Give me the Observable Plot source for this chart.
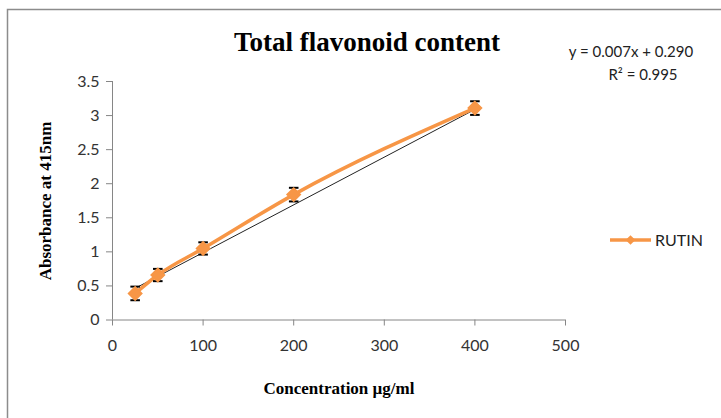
<!DOCTYPE html>
<html>
<head>
<meta charset="utf-8">
<script src="https://cdn.jsdelivr.net/npm/d3@7"></script>
<script src="https://cdn.jsdelivr.net/npm/@observablehq/plot@0.6"></script>
<style>
  html, body { margin: 0; padding: 0; background: #fff; }
  #chart { width: 721px; height: 418px; overflow: hidden; }
</style>
</head>
<body>
<div id="chart"></div>
<script>
// Data
const concentration = [25, 50, 100, 200, 400];
const absorbance = [0.39, 0.66, 1.05, 1.84, 3.11];
const errorBar = [0.10, 0.09, 0.09, 0.10, 0.10];
const seriesName = "RUTIN";
const trendSlope = 0.007;
const trendIntercept = 0.290;
const trendRange = [25, 400];
const xTicks = [0, 100, 200, 300, 400, 500];
const yTicks = [0, 0.5, 1, 1.5, 2, 2.5, 3, 3.5];
const titleText = "Total flavonoid content";
const xLabel = "Concentration \u00b5g/ml";
const yLabel = "Absorbance at 415nm";
const equationText = "y = 0.007x + 0.290";
const r2Text = "R\u00b2 = 0.995";

const orange = "#f79646";
const axisGray = "#868686";

const points = concentration.map((c, i) => ({
  x: c, y: absorbance[i], lo: absorbance[i] - errorBar[i], hi: absorbance[i] + errorBar[i]
}));
const trend = trendRange.map(x => ({ x, y: trendSlope * x + trendIntercept }));

const capSymbol = {
  draw(ctx, size) {
    const w = Math.sqrt(size) * 0.9;
    ctx.moveTo(-w, 0);
    ctx.lineTo(w, 0);
  }
};

const W = 721, H = 418;
const sans = "Lato, 'Open Sans', sans-serif";
const serif = "'Liberation Serif', 'Times New Roman', serif";
const chart = Plot.plot({
  width: W,
  height: H,
  marginLeft: 112,
  marginRight: 156,
  marginTop: 81,
  marginBottom: 98.5,
  style: { fontFamily: sans, fontSize: "16px", color: "#333", background: "#fff" },
  x: { domain: [0, 500] },
  y: { domain: [0, 3.5] },
  marks: [
    Plot.ruleX([0], { y1: 0, y2: 3.5, stroke: axisGray }),
    Plot.ruleY([0], { x1: 0, x2: 500, stroke: axisGray }),
    Plot.axisX({ ticks: xTicks, tickSize: 6, tickPadding: 14, stroke: axisGray, fill: "#333", label: null, fontSize: 16, tickFormat: d => String(d) }),
    Plot.axisY({ ticks: yTicks, tickSize: 6, tickPadding: 7, stroke: axisGray, fill: "#333", label: null, fontSize: 16, tickFormat: d => String(d) }),
    Plot.line(trend, { x: "x", y: "y", stroke: "#222", strokeWidth: 1 }),
    Plot.line(points, { x: "x", y: "y", stroke: orange, strokeWidth: 3.5, curve: "monotone-x" }),
    Plot.ruleX(points, { x: "x", y1: "lo", y2: "hi", stroke: "#000", strokeWidth: 1 }),
    Plot.dot(points, { x: "x", y: "hi", symbol: capSymbol, r: 3, stroke: "#000", strokeWidth: 2 }),
    Plot.dot(points, { x: "x", y: "lo", symbol: capSymbol, r: 3, stroke: "#000", strokeWidth: 2 }),
    Plot.dot(points, { x: "x", y: "y", symbol: "diamond2", r: 6, fill: orange, stroke: orange })
  ]
});
document.getElementById("chart").appendChild(chart);

const svg = d3.select(chart);
// Chart area border
svg.insert("rect", ":first-child")
  .attr("x", 7.5).attr("y", 9.5).attr("width", 800).attr("height", 500)
  .attr("fill", "none").attr("stroke", "#8c8c8c").attr("stroke-width", 1.5);

// Title
svg.append("text").text(titleText)
  .attr("x", 367).attr("y", 51).attr("text-anchor", "middle")
  .attr("font-family", serif)
  .attr("font-weight", "bold").attr("font-size", 27).attr("fill", "#000");

// Axis titles
svg.append("text").text(xLabel)
  .attr("x", 339).attr("y", 394).attr("text-anchor", "middle")
  .attr("font-family", serif)
  .attr("font-weight", "bold").attr("font-size", 17).attr("fill", "#000");
svg.append("text").text(yLabel)
  .attr("transform", "translate(51,201) rotate(-90)").attr("text-anchor", "middle")
  .attr("font-family", serif)
  .attr("font-weight", "bold").attr("font-size", 17).attr("fill", "#000");

// Trendline equation
svg.append("text").text(equationText)
  .attr("x", 631).attr("y", 57).attr("text-anchor", "middle")
  .attr("font-family", sans).attr("font-size", 15).attr("fill", "#222");
svg.append("text").text(r2Text)
  .attr("x", 643).attr("y", 80).attr("text-anchor", "middle")
  .attr("font-family", sans).attr("font-size", 15).attr("fill", "#222");

// Legend
const lg = svg.append("g");
lg.append("line").attr("x1", 610).attr("x2", 651).attr("y1", 240).attr("y2", 240)
  .attr("stroke", orange).attr("stroke-width", 3.5);
lg.append("path").attr("d", d3.symbol(d3.symbolDiamond2, 60)()).attr("transform", "translate(630.5,240)")
  .attr("fill", orange);
lg.append("text").text(seriesName).attr("x", 655).attr("y", 246).attr("text-anchor", "start")
  .attr("font-family", sans).attr("font-size", 16).attr("fill", "#222");
</script>
</body>
</html>
